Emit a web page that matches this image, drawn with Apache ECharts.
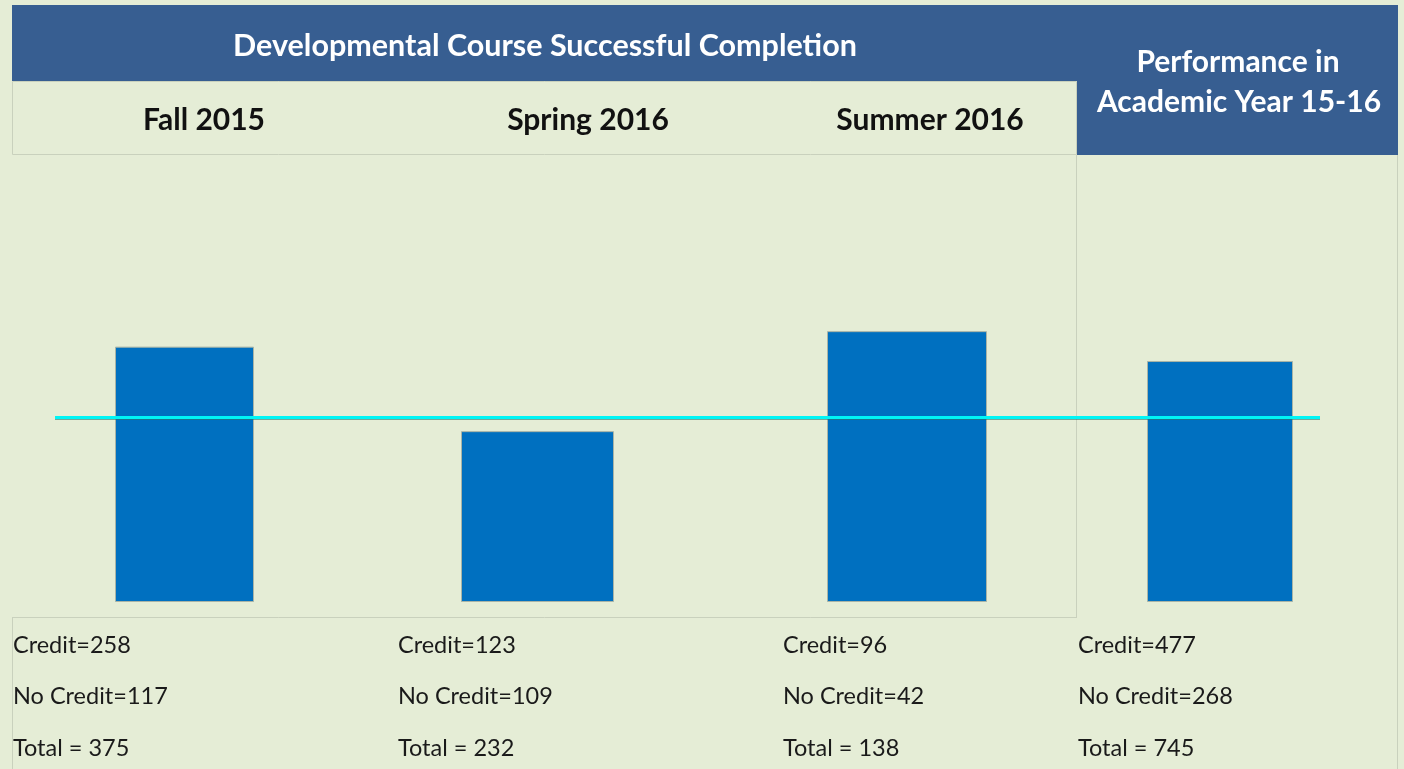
<!DOCTYPE html>
<html>
<head>
<meta charset="utf-8">
<script src="https://cdn.jsdelivr.net/npm/echarts@6/dist/echarts.min.js"></script>
<style>
html,body{margin:0;padding:0;background:#E5EDD6;}
#chart{width:1404px;height:769px;}
</style>
</head>
<body>
<div id="chart"></div>
<script>
// Data
var terms = ['Fall 2015', 'Spring 2016', 'Summer 2016', 'Academic Year 15-16'];
var completionRate = [69.2, 46.3, 73.4, 65.3];   // bar heights (hidden % axis)
var benchmark = [50, 50];                          // cyan reference line
var credit = [258, 123, 96, 477];
var noCredit = [117, 109, 42, 268];
var total = [375, 232, 138, 745];

var FONT = 'Lato, "Open Sans", sans-serif';
var chart = echarts.init(document.getElementById('chart'));

var barGrids = [
  {left: 115, width: 139},
  {left: 461, width: 153},
  {left: 827, width: 160},
  {left: 1147, width: 146}
];
var gridTop = 233, gridBottom = 167;

var grids = [], xAxes = [], yAxes = [], series = [];
barGrids.forEach(function (g, i) {
  grids.push({left: g.left, width: g.width, top: gridTop, bottom: gridBottom});
  xAxes.push({type: 'category', gridIndex: i, data: [terms[i]], show: false});
  yAxes.push({type: 'value', gridIndex: i, min: 0, max: 100, show: false});
  series.push({
    type: 'bar', xAxisIndex: i, yAxisIndex: i, barWidth: '100%',
    data: [completionRate[i]],
    itemStyle: {color: '#0070C0', borderColor: '#A9B4A6', borderWidth: 1},
    z: 3
  });
});
// line grid
grids.push({left: 55, width: 1265, top: gridTop, bottom: gridBottom});
xAxes.push({type: 'category', gridIndex: 4, data: ['start', 'end'], boundaryGap: false, show: false});
yAxes.push({type: 'value', gridIndex: 4, min: 0, max: 100, show: false});
series.push({
  type: 'line', xAxisIndex: 4, yAxisIndex: 4, data: benchmark, symbol: 'none',
  lineStyle: {color: '#00F5F5', width: 3, shadowColor: 'rgba(40,120,110,0.6)', shadowOffsetY: 1, shadowBlur: 0},
  z: 5
});

var graphics = [
  {type: 'rect', z: -10, shape: {x: 12, y: 5, width: 1065, height: 76}, style: {fill: '#375E91'}},
  {type: 'rect', z: -10, shape: {x: 1077, y: 5, width: 321, height: 150}, style: {fill: '#375E91'}},
  {type: 'rect', z: -9, shape: {x: 12.5, y: 81.5, width: 1064, height: 73}, style: {fill: 'none', stroke: '#C9D1BD', lineWidth: 1}},
  {type: 'line', z: -9, shape: {x1: 1076.5, y1: 155, x2: 1076.5, y2: 617}, style: {stroke: '#C9D1BD', lineWidth: 1}},
  {type: 'line', z: -9, shape: {x1: 12, y1: 617.5, x2: 1077, y2: 617.5}, style: {stroke: '#C9D1BD', lineWidth: 1}},
  {type: 'line', z: -9, shape: {x1: 12.5, y1: 617, x2: 12.5, y2: 769}, style: {stroke: '#C9D1BD', lineWidth: 1}},
  {type: 'line', z: -9, shape: {x1: 1397.5, y1: 155, x2: 1397.5, y2: 769}, style: {stroke: '#C9D1BD', lineWidth: 1}},
  {type: 'text', style: {text: 'Developmental Course Successful Completion', x: 545, y: 46, align: 'center', verticalAlign: 'middle', fill: '#FFFFFF', font: 'bold 30.5px ' + FONT}},
  {type: 'text', style: {text: 'Performance in', x: 1238, y: 62, align: 'center', verticalAlign: 'middle', fill: '#FFFFFF', font: 'bold 30px ' + FONT}},
  {type: 'text', style: {text: 'Academic Year 15-16', x: 1239, y: 102, align: 'center', verticalAlign: 'middle', fill: '#FFFFFF', font: 'bold 30px ' + FONT}}
];
var termCenters = [204, 588, 930];
for (var i = 0; i < 3; i++) {
  graphics.push({type: 'text', style: {text: terms[i], x: termCenters[i], y: 120, align: 'center', verticalAlign: 'middle', fill: '#111111', font: 'bold 30px ' + FONT}});
}
var statX = [13, 398, 783, 1078];
for (var j = 0; j < 4; j++) {
  var lines = ['Credit=' + credit[j], 'No Credit=' + noCredit[j], 'Total = ' + total[j]];
  var ys = [645, 696, 748];
  for (var k = 0; k < 3; k++) {
    graphics.push({type: 'text', style: {text: lines[k], x: statX[j], y: ys[k], align: 'left', verticalAlign: 'middle', fill: '#1A1A1A', font: '23.5px ' + FONT}});
  }
}

chart.setOption({
  backgroundColor: '#E5EDD6',
  animation: false,
  grid: grids,
  xAxis: xAxes,
  yAxis: yAxes,
  series: series,
  graphic: graphics
});
</script>
</body>
</html>
